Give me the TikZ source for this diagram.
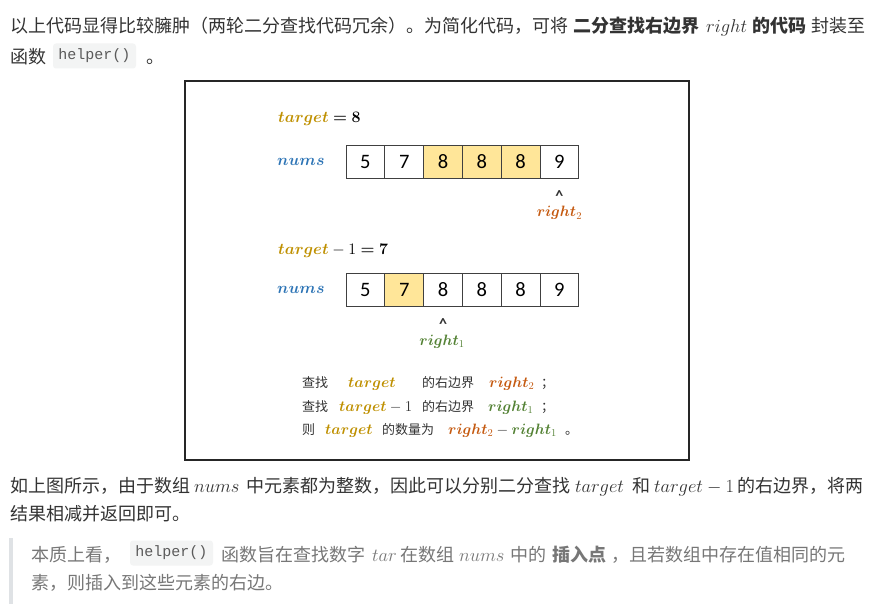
\RequirePackage{fix-cm}
\documentclass[tikz,border=0pt]{standalone}
\usepackage{fontspec}
\usepackage{bm}
\setmainfont{Noto Sans CJK SC}
\newfontfamily\numfont{Carlito}
\newfontfamily\codefont{Liberation Mono}
\definecolor{txt}{HTML}{333333}
\definecolor{qtxt}{HTML}{777777}
\definecolor{codetxt}{HTML}{5A5A5A}
\definecolor{gold}{HTML}{BF9000}
\definecolor{numsblue}{HTML}{2E75B6}
\definecolor{rorange}{HTML}{C55A11}
\definecolor{rgreen}{HTML}{548235}
\definecolor{cellfill}{HTML}{FFE699}
\definecolor{codebg}{HTML}{F3F4F4}
\definecolor{barcol}{HTML}{DFE2E5}
\definecolor{cellline}{HTML}{404040}
\tikzset{
  body/.style={anchor=base west, inner sep=0pt, outer sep=0pt, text=txt, font=\fontsize{18}{20}\selectfont},
  qbody/.style={body, text=qtxt},
  bmath/.style={anchor=base west, inner sep=0pt, outer sep=0pt, text=txt, font=\fontsize{18.5}{20}\selectfont},
  qmath/.style={bmath, text=qtxt},
  codebox/.style={fill=codebg, rounded corners=3pt, inner sep=0pt, minimum width=83pt, minimum height=25pt, text=codetxt, font=\codefont\fontsize{15}{16}\selectfont},
  cell/.style={draw=cellline, line width=0.9pt, minimum width=38.8pt, minimum height=33pt, inner sep=0pt, outer sep=0pt, font=\numfont\fontsize{20.5}{22}\selectfont},
  hcell/.style={cell, fill=cellfill},
  lbl/.style={anchor=base west, inner sep=0pt, font=\fontsize{16}{18}\selectfont},
  dtext/.style={anchor=base west, inner sep=0pt, text=txt, font=\fontsize{13}{15}\selectfont},
  dmath/.style={anchor=base west, inner sep=0pt, text=txt, font=\fontsize{15}{17}\selectfont},
  caret/.style={anchor=base, inner sep=0pt, text=txt, font=\numfont\bfseries\fontsize{16}{18}\selectfont},
  rlabel/.style={anchor=base, inner sep=0pt, font=\fontsize{15}{17}\selectfont},
}
\begin{document}
\begin{tikzpicture}[x=1pt,y=-1pt]
\useasboundingbox[fill=white] (0,0) rectangle (884,604);

% ---- top paragraph ----
\node[body] (p1a) at (10,33) {以上代码显得比较臃肿（两轮二分查找代码冗余）。为简化代码，可将};
\node[body] (p1b) at (573,33) {\bfseries 二分查找右边界};
\node[bmath] (p1c) at (706,33) {$right$};
\node[body] (p1d) at (752,33) {\bfseries 的代码};
\node[body] (p1e) at (811,33) {封装至};
\node[body] (p2a) at (10,64) {函数};
\node[codebox] (p2code) at (94.5,56) {helper()};
\node[body] (p2b) at (146,64) {。};

% ---- diagram frame ----
\draw[line width=2pt, black!85] (185,81) rectangle (689,460);

% ---- first array ----
\node[lbl] (tg1) at (278,123) {$\textcolor{gold}{\bm{target}}\mathrel{\bm{=}}\bm{8}$};
\node[lbl, text=numsblue] (nums1) at (277,166) {$\bm{nums}$};
\foreach \v [count=\i] in {5,7,8,8,8,9}{
  \ifnum\i>2 \ifnum\i<6
    \node[hcell] (a\i) at ({346+38.8*(\i-0.5)},161.5) {\v};
  \else
    \node[cell] (a\i) at ({346+38.8*(\i-0.5)},161.5) {\v};
  \fi \else
    \node[cell] (a\i) at ({346+38.8*(\i-0.5)},161.5) {\v};
  \fi
}
\node[caret] (car2) at (559.4,202) {\^{}};
\node[rlabel, text=rorange] (r2) at (559.4,217) {$\bm{right}_2$};

% ---- second array ----
\node[lbl] (tg2) at (278,255) {$\textcolor{gold}{\bm{target}}-1\mathrel{\bm{=}}\bm{7}$};
\node[lbl, text=numsblue] (nums2) at (277,294) {$\bm{nums}$};
\foreach \v [count=\i] in {5,7,8,8,8,9}{
  \ifnum\i=2
    \node[hcell] (b\i) at ({346+38.8*(\i-0.5)},289.5) {\v};
  \else
    \node[cell] (b\i) at ({346+38.8*(\i-0.5)},289.5) {\v};
  \fi
}
\node[caret] (car1) at (443,329) {\^{}};
\node[rlabel, text=rgreen] (r1) at (442,345) {$\bm{right}_1$};

% ---- explanation lines ----
\node[dtext] (e1a) at (302,387) {查找};
\node[dmath] (e1b) at (348,387) {$\textcolor{gold}{\bm{target}}$};
\node[dtext] (e1c) at (422,387) {的右边界};
\node[dmath] (e1d) at (489,387) {$\textcolor{rorange}{\bm{right}_2}$};
\node[dtext] (e1e) at (541,387) {；};

\node[dtext] (e2a) at (302,411) {查找};
\node[dmath] (e2b) at (339,411) {$\textcolor{gold}{\bm{target}}-1$};
\node[dtext] (e2c) at (422,411) {的右边界};
\node[dmath] (e2d) at (488,411) {$\textcolor{rgreen}{\bm{right}_1}$};
\node[dtext] (e2e) at (541,411) {；};

\node[dtext] (e3a) at (302,434) {则};
\node[dmath] (e3b) at (325,434) {$\textcolor{gold}{\bm{target}}$};
\node[dtext] (e3c) at (382,434) {的数量为};
\node[dmath] (e3d) at (448,434) {$\textcolor{rorange}{\bm{right}_2}-\textcolor{rgreen}{\bm{right}_1}$};
\node[dtext] (e3e) at (565,434) {。};

% ---- paragraph below ----
\node[body] (p3a) at (10,492) {如上图所示，由于数组};
\node[bmath] (p3b) at (194,492) {$nums$};
\node[body] (p3c) at (246,492) {中元素都为整数，因此可以分别二分查找};
\node[bmath] (p3d) at (575,492) {$target$};
\node[body] (p3e) at (632,492) {和};
\node[bmath] (p3f) at (654,492) {$target-1$};
\node[body] (p3g) at (737,492) {的右边界，将两};
\node[body] (p4a) at (10,520) {结果相减并返回即可。};

% ---- blockquote ----
\fill[barcol] (8.5,538) rectangle (13,604);
\node[qbody] (q1a) at (31,561) {本质上看，};
\node[codebox] (qcode) at (171.5,553) {helper()};
\node[qbody] (q1b) at (221,561) {函数旨在查找数字};
\node[qmath] (q1c) at (372,561) {$tar$};
\node[qbody] (q1d) at (400,561) {在数组};
\node[qmath] (q1e) at (459,561) {$nums$};
\node[qbody] (q1f) at (510,561) {中的};
\node[qbody] (q1g) at (552,561) {\bfseries 插入点};
\node[qbody] (q1h) at (611,561) {，且若数组中存在值相同的元};
\node[qbody] (q2a) at (31,589) {素，则插入到这些元素的右边。};
\end{tikzpicture}
\end{document}
